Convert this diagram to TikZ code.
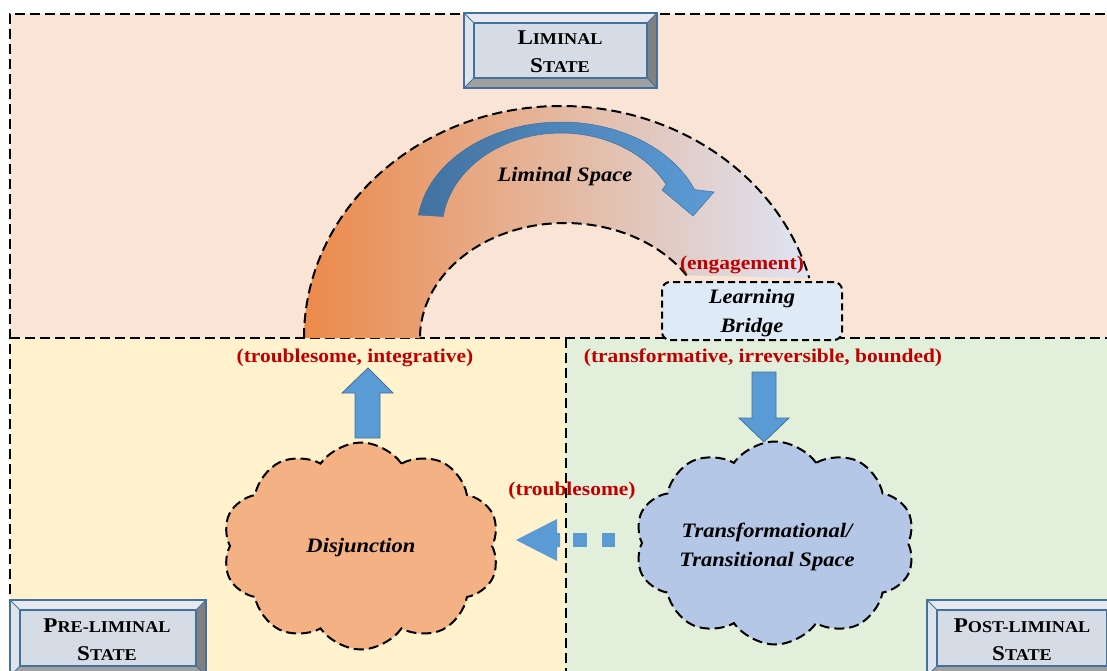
\documentclass[tikz,border=0pt]{standalone}
\usepackage{fontspec}
\setmainfont{Liberation Serif}[FakeStretch=1.1]
\usetikzlibrary{shapes.symbols}
\definecolor{topbg}{RGB}{250,228,214}
\definecolor{leftbg}{RGB}{255,242,204}
\definecolor{rightbg}{RGB}{226,239,218}
\definecolor{archL}{RGB}{236,138,74}
\definecolor{archR}{RGB}{221,228,243}
\definecolor{arrowL}{RGB}{67,114,160}
\definecolor{arrowR}{RGB}{91,155,213}
\definecolor{blockblue}{RGB}{91,155,213}
\definecolor{boxblue}{RGB}{65,113,156}
\definecolor{redtxt}{RGB}{192,0,0}
\definecolor{disjfill}{RGB}{244,177,131}
\definecolor{transfill}{RGB}{180,199,231}
\definecolor{bridgefill}{RGB}{222,235,247}
\definecolor{titlefill}{RGB}{214,220,229}
\definecolor{bevtop}{RGB}{230,234,240}
\definecolor{bevleft}{RGB}{222,228,236}
\definecolor{bevright}{RGB}{128,128,128}
\definecolor{bevbot}{RGB}{160,160,160}
\newcommand{\bevbox}[4]{%
 \fill[bevtop] (#1,#2) -- (#3,#2) -- (#3-10,#2+10) -- (#1+10,#2+10) -- cycle;
 \fill[bevleft] (#1,#2) -- (#1+10,#2+10) -- (#1+10,#4-10) -- (#1,#4) -- cycle;
 \fill[bevright] (#3,#2) -- (#3,#4) -- (#3-10,#4-10) -- (#3-10,#2+10) -- cycle;
 \fill[bevbot] (#1,#4) -- (#3,#4) -- (#3-10,#4-10) -- (#1+10,#4-10) -- cycle;
 \fill[titlefill] (#1+10,#2+10) rectangle (#3-10,#4-10);
 \draw[boxblue, line width=1] (#1,#2) -- (#1+10,#2+10) (#3,#2) -- (#3-10,#2+10) (#3,#4) -- (#3-10,#4-10) (#1,#4) -- (#1+10,#4-10);
 \draw[boxblue, line width=2.2] (#1,#2) rectangle (#3,#4);
 \draw[boxblue, line width=2] (#1+10,#2+10) rectangle (#3-10,#4-10);
}
\newcommand{\bigsc}[2]{{\fontsize{21}{28}\selectfont #1}{\fontsize{16.5}{28}\selectfont #2}}
\begin{document}
\begin{tikzpicture}[x=1pt,y=-1pt,
  bord/.style={line width=2pt, dash pattern=on 10pt off 5pt},
  redlbl/.style={text=redtxt, font=\fontsize{19.5}{22}\selectfont\bfseries, inner sep=0pt},
  itlbl/.style={font=\fontsize{20.5}{28.5}\selectfont\bfseries\itshape, align=center, inner sep=0pt},
  titletxt/.style={font=\fontsize{21}{28}\selectfont\bfseries, align=center, inner sep=0pt},
  blockarrow/.style={fill=blockblue, draw=boxblue, line width=0.8pt},
  cloudstyle/.style={cloud, cloud puffs=10, cloud puff arc=110, draw, line width=2pt, dash pattern=on 10pt off 5pt, inner sep=0pt}
]
\useasboundingbox (0,0) rectangle (1107,671);
\clip (0,0) rectangle (1107,671);

% regions
\fill[topbg] (10,14) rectangle (1120,338);
\fill[leftbg] (10,338) rectangle (566,690);
\fill[rightbg] (566,338) rectangle (1120,690);
\draw[bord] (1120,14) -- (10,14) -- (10,690);
\draw[bord] (10,338) -- (1120,338);
\draw[bord] (566,338) -- (566,690);

% arch
\path[left color=archL, right color=archR]
  (304,338) arc[start angle=180, end angle=345, x radius=257, y radius=232]
  -- (686.6,275.4) arc[start angle=327, end angle=180, x radius=145, y radius=115] -- cycle;
\draw[bord] (304,338) arc[start angle=180, end angle=345, x radius=257, y radius=232];
\draw[bord] (686.6,275.4) arc[start angle=327, end angle=180, x radius=145, y radius=115];

% curved arrow
\path[left color=arrowL, right color=arrowR, draw=boxblue, line width=0.5pt]
  (418.4,215) arc[start angle=188, end angle=338, x radius=144, y radius=108]
  -- (714,192) -- (693,216) -- (662,190) -- (666.1,184.5)
  arc[start angle=332, end angle=188, x radius=119, y radius=97] -- cycle;

\node[itlbl] (lspace) at (565,177) {Liminal Space};
\node[redlbl] (engage) at (742,265) {(engagement)};
\node[draw, fill=bridgefill, line width=2pt, dash pattern=on 7pt off 4pt, rounded corners=8pt,
  minimum width=180pt, minimum height=58pt] (bridge) at (752,311) {};
\node[itlbl] (bridgetxt) at (752,313) {Learning\\Bridge};

% labels
\node[redlbl] (ti) at (355,358) {(troublesome, integrative)};
\node[redlbl] (tib) at (763,358) {(transformative, irreversible, bounded)};
\node[redlbl] (tr) at (572,491) {(troublesome)};

% block arrows
\path[blockarrow] (355,438) -- (355,393) -- (342,393) -- (368,368) -- (393,393) -- (380,393) -- (380,438) -- cycle;
\path[blockarrow] (752,372) -- (776,372) -- (776,418) -- (789,418) -- (764,442) -- (739,418) -- (752,418) -- cycle;
\fill[blockblue] (516,540) -- (557,519) -- (557,533) -- (560,533) -- (560,547) -- (557,547) -- (557,561) -- cycle;
\fill[blockblue] (573,533) rectangle (587,547);
\fill[blockblue] (602,533) rectangle (615,547);

% clouds
\node[cloudstyle, fill=disjfill, minimum width=277pt, minimum height=207pt] (disj) at (361,546) {};
\node[itlbl] (disjtxt) at (361,548) {Disjunction};
\node[cloudstyle, fill=transfill, minimum width=280pt, minimum height=203pt] (trans) at (775,543) {};
\node[itlbl] (transtxt) at (767,547) {Transformational/\\Transitional Space};

% title boxes
\bevbox{464}{13}{657}{88}
\node[titletxt] (lim) at (560,52) {\bigsc{L}{IMINAL}\\\bigsc{S}{TATE}};
\bevbox{10}{600}{206}{676}
\node[titletxt] (pre) at (107,640) {\bigsc{P}{RE-LIMINAL}\\\bigsc{S}{TATE}};
\bevbox{927}{600}{1117}{676}
\node[titletxt] (post) at (1022,640) {\bigsc{P}{OST-LIMINAL}\\\bigsc{S}{TATE}};
\end{tikzpicture}
\end{document}
